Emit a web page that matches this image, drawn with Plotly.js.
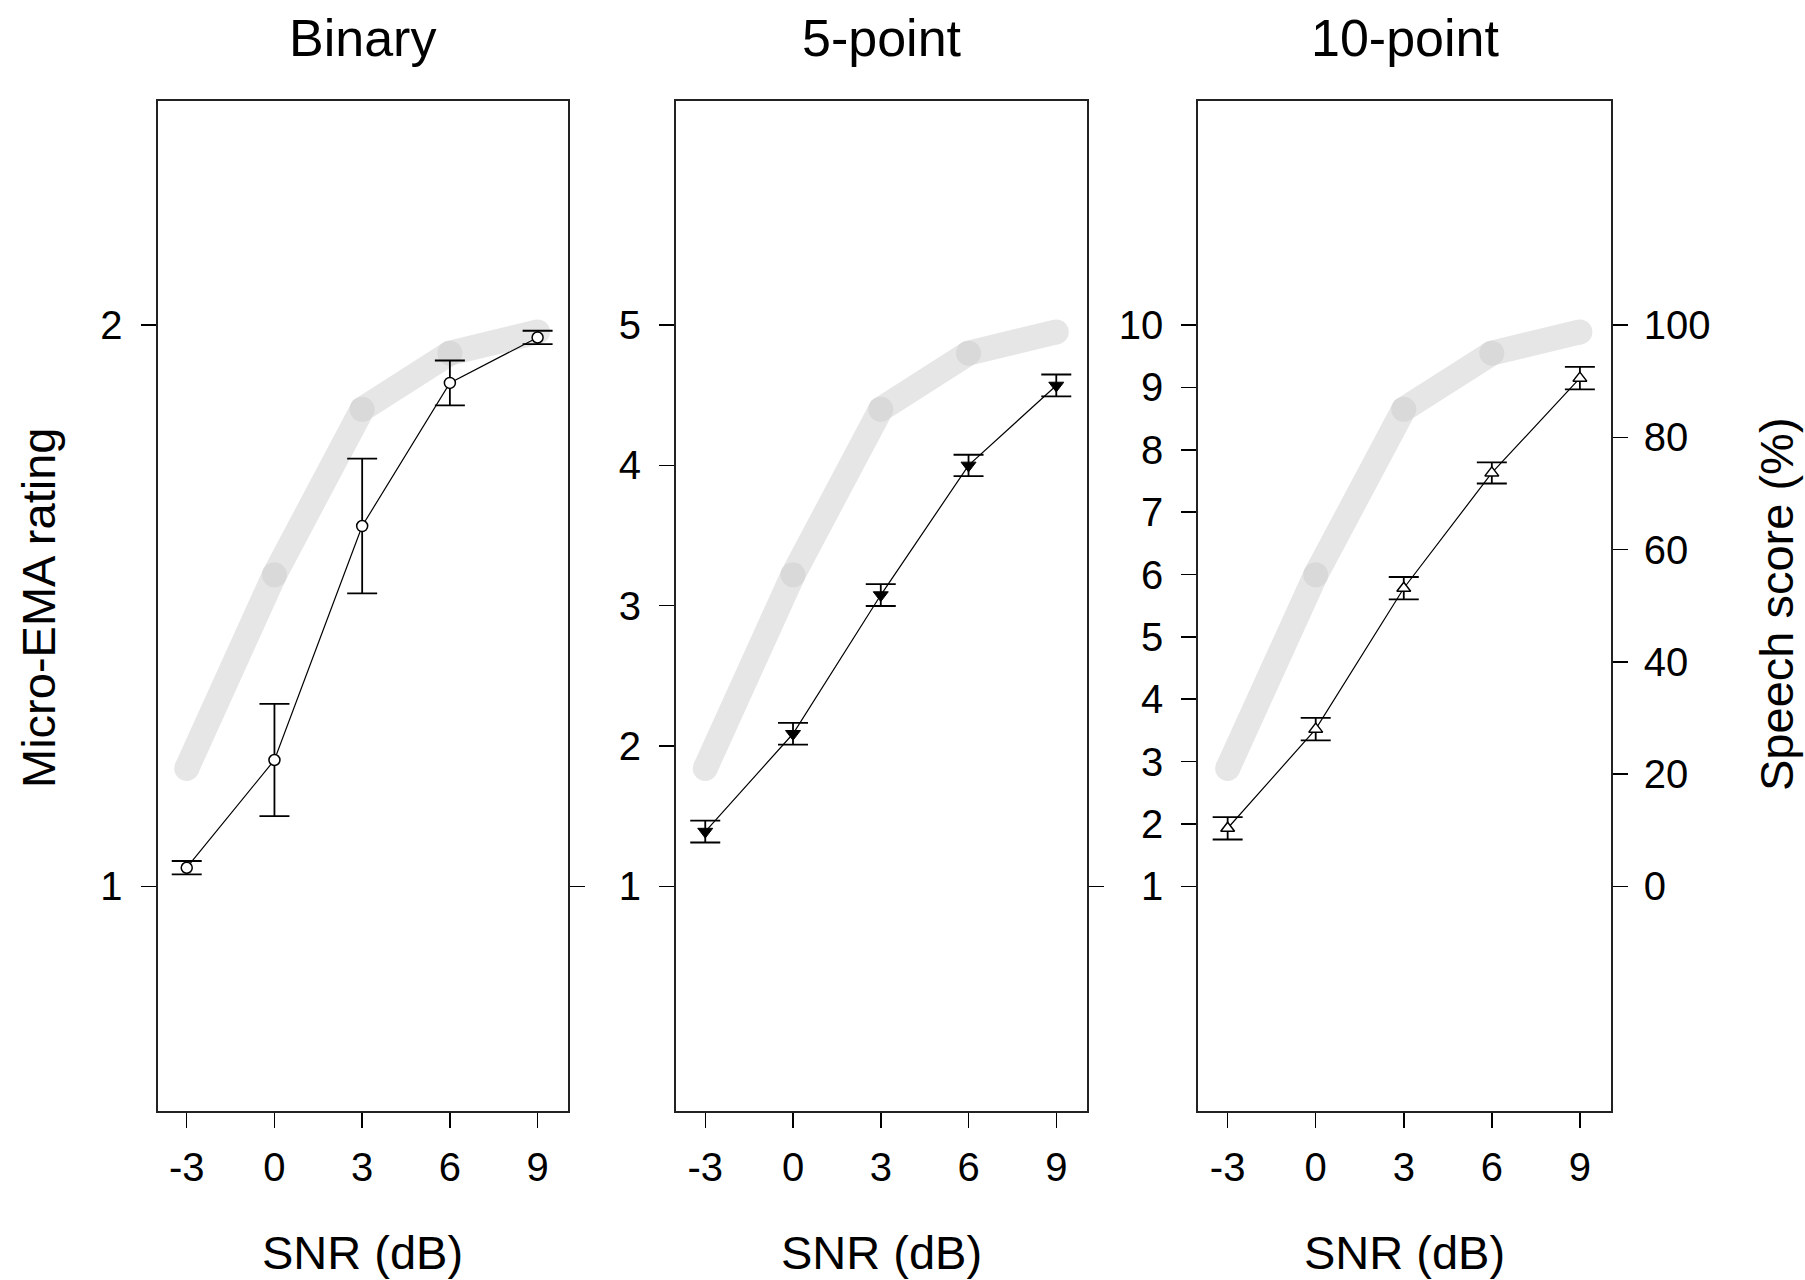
<!DOCTYPE html>
<html>
<head>
<meta charset="utf-8">
<script src="https://cdn.plot.ly/plotly-3.0.1.min.js"></script>
<style>
  html, body { margin: 0; padding: 0; background: #ffffff; }
  #chart { width: 1805px; height: 1280px; }
</style>
</head>
<body>
<div id="chart"></div>
<script>
// ---- data ----
var snr = [-3, 0, 3, 6, 9];
var snrTicks = [-3, 0, 3, 6, 9];
var panelTitles = ["Binary", "5-point", "10-point"];

var speechScore = [21, 55.5, 85, 95, 98.8];

var binaryMean = [1.033, 1.225, 1.642, 1.897, 1.978];
var binaryErr  = [0.012, 0.10, 0.12, 0.04, 0.012];

var fivePointMean = [1.39, 2.087, 3.076, 4.0, 4.57];
var fivePointErr  = [0.078, 0.078, 0.078, 0.076, 0.078];

var tenPointMean = [1.93, 3.52, 5.78, 7.63, 9.15];
var tenPointErr  = [0.18, 0.18, 0.18, 0.17, 0.18];

var binaryTicks = [1, 2];
var fivePointTicks = [1, 2, 3, 4, 5];
var tenPointTicks = [1, 2, 3, 4, 5, 6, 7, 8, 9, 10];
var speechTicks = [0, 20, 40, 60, 80, 100];

// ---- layout helpers ----
var W = 1805, H = 1280;
var FONT = '"Liberation Sans", Arial, Helvetica, sans-serif';
var yDom = [1 - 1110.7 / H, 1 - 100.7 / H];
var xDoms = [[157.5 / W, 568.3 / W], [676 / W, 1087 / W], [1198.3 / W, 1610.7 / W]];
var ratingRanges = [[0.6, 2.4], [-0.6, 6.6], [-2.6, 13.6]];
var ratingTicks = [binaryTicks, fivePointTicks, tenPointTicks];
var means = [binaryMean, fivePointMean, tenPointMean];
var errs = [binaryErr, fivePointErr, tenPointErr];
var markers = [
  {symbol: 'circle', size: 11, color: '#ffffff', line: {color: '#000', width: 1.5}},
  {symbol: 'triangle-down', size: 13, color: '#000000', line: {color: '#000', width: 1}},
  {symbol: 'triangle-up', size: 12, color: '#ffffff', line: {color: '#000', width: 1.5}}
];

var data = [];
var layout = {
  width: W, height: H,
  margin: {l: 0, r: 0, t: 0, b: 0},
  paper_bgcolor: '#ffffff', plot_bgcolor: '#ffffff',
  showlegend: false,
  font: {family: FONT, color: '#000', size: 40},
  annotations: []
};

for (var i = 0; i < 3; i++) {
  var xId = i === 0 ? 'x' : 'x' + (i + 1);
  var sId = 'y' + (2 * i === 0 ? '' : (2 * i + 1));   // speech axis (base, right)
  var rId = 'y' + (2 * i + 2);                       // rating axis (overlay, left)
  var xKey = i === 0 ? 'xaxis' : 'xaxis' + (i + 1);
  var sKey = 'yaxis' + (2 * i === 0 ? '' : (2 * i + 1));
  var rKey = 'yaxis' + (2 * i + 2);

  // speech score (grey thick line) on right axis
  data.push({
    type: 'scatter', mode: 'lines+markers',
    x: snr, y: speechScore,
    xaxis: xId, yaxis: sId,
    line: {color: '#e6e6e6', width: 25},
    marker: {size: 25, color: ['#e6e6e6', '#d9d9d9', '#d9d9d9', '#d9d9d9', '#e6e6e6']},
    hoverinfo: 'skip'
  });
  // micro-EMA rating with error bars on left axis
  data.push({
    type: 'scatter', mode: 'lines+markers',
    x: snr, y: means[i],
    xaxis: xId, yaxis: rId,
    line: {color: '#000', width: 1.2},
    marker: markers[i],
    error_y: {type: 'data', array: errs[i], visible: true, color: '#000', thickness: 1.8, width: 15}
  });

  layout[xKey] = {
    domain: xDoms[i], anchor: sId,
    range: [-4, 10.05],
    tickmode: 'array', tickvals: snrTicks, ticktext: snrTicks.map(String),
    ticks: 'outside', ticklen: 15, tickwidth: 1.5, tickcolor: '#000',
    ticklabelstandoff: 5,
    tickfont: {family: FONT, size: 40, color: '#000'},
    showline: true, linewidth: 2, linecolor: '#222', mirror: true,
    showgrid: false, zeroline: false, fixedrange: true
  };
  layout[sKey] = {
    domain: yDom, anchor: xId, side: 'right',
    range: [-40, 140],
    tickmode: 'array', tickvals: i === 2 ? speechTicks : [0],
    ticktext: (i === 2 ? speechTicks : [0]).map(String),
    showticklabels: i === 2,
    ticks: 'outside', ticklen: 15, tickwidth: 1.5, tickcolor: '#000',
    ticklabelstandoff: 8,
    tickfont: {family: FONT, size: 40, color: '#000'},
    showline: true, linewidth: 2, linecolor: '#222',
    showgrid: false, zeroline: false, fixedrange: true
  };
  layout[rKey] = {
    overlaying: sId, anchor: xId, side: 'left',
    range: ratingRanges[i],
    tickmode: 'array', tickvals: ratingTicks[i], ticktext: ratingTicks[i].map(String),
    ticks: 'outside', ticklen: 15, tickwidth: 1.5, tickcolor: '#000',
    ticklabelstandoff: 10,
    tickfont: {family: FONT, size: 40, color: '#000'},
    showline: true, linewidth: 2, linecolor: '#222',
    showgrid: false, zeroline: false, fixedrange: true
  };

  var cx = (xDoms[i][0] + xDoms[i][1]) / 2;
  layout.annotations.push({
    xref: 'paper', yref: 'paper', x: cx, y: 1 - 38 / H,
    xanchor: 'center', yanchor: 'middle', showarrow: false,
    text: panelTitles[i], font: {family: FONT, size: 52, color: '#000'}
  });
  layout.annotations.push({
    xref: 'paper', yref: 'paper', x: cx, y: 1 - 1252 / H,
    xanchor: 'center', yanchor: 'middle', showarrow: false,
    text: 'SNR (dB)', font: {family: FONT, size: 47, color: '#000'}
  });
}

layout.annotations.push({
  xref: 'paper', yref: 'paper', x: 38 / W, y: 1 - 608 / H,
  xanchor: 'center', yanchor: 'middle', showarrow: false, textangle: -90,
  text: 'Micro-EMA rating', font: {family: FONT, size: 47, color: '#000'}
});
layout.annotations.push({
  xref: 'paper', yref: 'paper', x: 1776 / W, y: 1 - 604 / H,
  xanchor: 'center', yanchor: 'middle', showarrow: false, textangle: -90,
  text: 'Speech score (%)', font: {family: FONT, size: 47, color: '#000'}
});

Plotly.newPlot('chart', data, layout, {displayModeBar: false, staticPlot: true});
</script>
</body>
</html>
